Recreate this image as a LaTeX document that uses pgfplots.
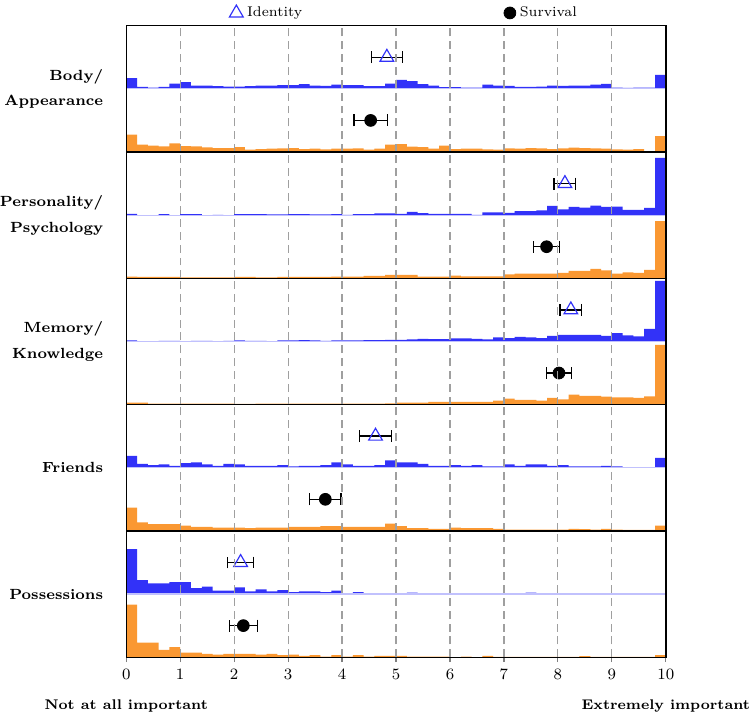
\documentclass[border=0pt]{standalone}
\usepackage{pgfplots}
\pgfplotsset{compat=1.18}
\usepackage{pgfplotstable}
\usepgfplotslibrary{groupplots,fillbetween}
\definecolor{idblue}{RGB}{50,50,248}
\definecolor{svorange}{RGB}{250,152,50}

\pgfplotsset{
  legtri/.style={only marks, idblue, mark=triangle, mark size=4pt, mark options={fill=white, line width=0.6pt},
    legend image code/.code={\draw[mark repeat=2,mark phase=2,only marks,##1] plot coordinates {(0cm,0cm) (0.1cm,0cm) (0.2cm,0cm)};}},
  legcirc/.style={only marks, black, mark=*, mark size=3pt,
    legend image code/.code={\draw[mark repeat=2,mark phase=2,only marks,##1] plot coordinates {(0cm,0cm) (0.1cm,0cm) (0.2cm,0cm)};}},
}
\newcommand{\lblfont}{\fontsize{7.45}{9}\selectfont\bfseries}
\newcommand{\extfont}{\fontsize{7.1}{8.5}\selectfont\bfseries}

% Panel 1: Body/Appearance
\pgfplotstableread{
x b o
0.0 32 52
0.2 6 22
0.4 4 19
0.6 6 17
0.8 16 26
1.0 20 18
1.2 10 17
1.4 10 14
1.6 8 12
1.8 7 12
2.0 7 15
2.2 8 7
2.4 10 9
2.6 10 10
2.8 11 11
3.0 11 12
3.2 14 9
3.4 10 10
3.6 9 8
3.8 13 10
4.0 11 10
4.2 11 11
4.4 8 7
4.6 8 10
4.8 16 22
5.0 27 24
5.2 23 16
5.4 14 15
5.6 10 10
5.8 5 19
6.0 5 9
6.2 4 10
6.4 4 10
6.6 13 8
6.8 10 7
7.0 9 11
7.2 6 10
7.4 6 12
7.6 7 11
7.8 10 9
8.0 9 11
8.2 10 13
8.4 10 12
8.6 13 11
8.8 15 10
9.0 4 8
9.2 3 7
9.4 4 9
9.6 4 3
9.8 42 48
10.0 42 48
}\tabA

% Panel 2: Personality/Psychology
\pgfplotstableread{
x b o
0.0 4 5
0.2 0 4
0.4 0 4
0.6 3 4
0.8 0 4
1.0 3 3
1.2 3 3
1.4 0 3
1.6 1 3
1.8 0 3
2.0 3 4
2.2 3 4
2.4 3 3
2.6 2 3
2.8 2 4
3.0 3 4
3.2 3 4
3.4 2 4
3.6 2 4
3.8 3 5
4.0 1 5
4.2 3 5
4.4 3 7
4.6 5 7
4.8 5 10
5.0 4 10
5.2 10 10
5.4 6 5
5.6 4 5
5.8 4 5
6.0 4 8
6.2 4 6
6.4 1 6
6.6 8 6
6.8 8 6
7.0 7 12
7.2 12 14
7.4 12 14
7.6 14 14
7.8 28 14
8.0 17 16
8.2 25 22
8.4 23 22
8.6 29 28
8.8 25 24
9.0 26 14
9.2 16 18
9.4 16 16
9.6 22 25
9.8 172 172
10.0 172 172
}\tabB

% Panel 3: Memory/Knowledge
\pgfplotstableread{
x b o
0.0 3 6
0.2 0 6
0.4 0 3
0.6 2 3
0.8 2 3
1.0 0 3
1.2 2 3
1.4 2 3
1.6 0 3
1.8 2 3
2.0 3 2
2.2 2 2
2.4 2 3
2.6 0 3
2.8 3 3
3.0 3 3
3.2 4 3
3.4 3 3
3.6 2 3
3.8 3 3
4.0 3 3
4.2 3 3
4.4 4 3
4.6 4 3
4.8 5 4
5.0 5 6
5.2 6 6
5.4 8 6
5.6 7 8
5.8 7 8
6.0 9 8
6.2 9 8
6.4 8 8
6.6 6 8
6.8 12 12
7.0 10 18
7.2 14 14
7.4 12 14
7.6 10 12
7.8 17 20
8.0 20 16
8.2 20 30
8.4 20 26
8.6 20 26
8.8 17 24
9.0 25 22
9.2 18 22
9.4 15 20
9.6 38 25
9.8 182 180
10.0 182 180
}\tabC

% Panel 4: Friends
\pgfplotstableread{
x b o
0.0 36 70
0.2 12 26
0.4 8 20
0.6 10 20
0.8 6 20
1.0 14 16
1.2 16 12
1.4 10 12
1.6 6 10
1.8 12 10
2.0 10 10
2.2 6 8
2.4 6 10
2.6 6 10
2.8 8 10
3.0 4 12
3.2 6 12
3.4 6 12
3.6 8 14
3.8 16 14
4.0 10 12
4.2 6 12
4.4 6 12
4.6 8 12
4.8 22 22
5.0 16 14
5.2 16 8
5.4 12 8
5.6 6 6
5.8 6 6
6.0 8 10
6.2 6 8
6.4 8 8
6.6 4 8
6.8 4 6
7.0 10 4
7.2 6 4
7.4 10 4
7.6 10 4
7.8 6 4
8.0 8 4
8.2 4 6
8.4 4 5
8.6 4 4
8.8 6 6
9.0 4 4
9.2 2 3
9.4 2 3
9.6 2 3
9.8 30 16
10.0 30 16
}\tabD

% Panel 5: Possessions
\pgfplotstableread{
x b o
0.0 135 158
0.2 42 44
0.4 32 44
0.6 32 22
0.8 36 30
1.0 36 14
1.2 18 14
1.4 22 10
1.6 10 8
1.8 10 10
2.0 20 10
2.2 8 10
2.4 14 8
2.6 8 10
2.8 12 6
3.0 6 8
3.2 8 4
3.4 8 6
3.6 6 2
3.8 10 6
4.0 2 2
4.2 6 6
4.4 3 2
4.6 3 4
4.8 3 4
5.0 3 4
5.2 4 2
5.4 2 2
5.6 2 2
5.8 3 2
6.0 1 0
6.2 2 2
6.4 2 0
6.6 1 4
6.8 0 1
7.0 1 1
7.2 0 1
7.4 4 1
7.6 1 1
7.8 1 1
8.0 1 1
8.2 1 1
8.4 1 3
8.6 0 1
8.8 1 1
9.0 1 1
9.2 0 1
9.4 1 1
9.6 1 1
9.8 0 6
10.0 0 6
}\tabE

\newcommand{\panelplots}[6]{%
  \addplot[draw=idblue!30, line width=0.6pt, forget plot] coordinates {(0,190) (10,190)};
  \addplot[name path=bh#2, draw=none, const plot, forget plot] table[x=x, y expr=\thisrow{b}+190] {#1};
  \addplot[name path=bb#2, draw=none, forget plot] coordinates {(0,190) (10,190)};
  \addplot[fill=idblue, draw=none, forget plot] fill between[of=bh#2 and bb#2];
  \addplot[fill=svorange, draw=none, const plot, forget plot] table[x=x, y=o] {#1} \closedcycle;
  \addplot[only marks, idblue, mark=triangle, mark size=4pt, mark options={fill=white, line width=0.6pt}, forget plot,
    error bars/.cd, x dir=both, x explicit,
    error bar style={black, line width=0.7pt},
    error mark options={rotate=90, black, mark size=3pt, line width=0.7pt}]
    coordinates {(#3,285) +- (#4,0)};
  \addplot[only marks, black, mark=*, mark size=3pt, forget plot,
    error bars/.cd, x dir=both, x explicit,
    error bar style={black, line width=0.7pt},
    error mark options={rotate=90, black, mark size=3pt, line width=0.7pt}]
    coordinates {(#5,95) +- (#6,0)};
}

\begin{document}
\begin{tikzpicture}
\begin{groupplot}[
  group style={group name=G, group size=1 by 5, vertical sep=0pt, xticklabels at=edge bottom},
  scale only axis, width=273pt, height=63.9pt,
  xmin=0, xmax=10, ymin=0, ymax=380, enlargelimits=false,
  xtick={0,1,...,10}, ytick=\empty,
  xmajorgrids,
  major grid style={gray!75, dash pattern=on 4pt off 2.5pt, line width=0.6pt},
  axis on top,
  axis line style={black, line width=0.7pt},
  major tick length=0pt,
  clip mode=individual,
  tick label style={font=\footnotesize},
]
\nextgroupplot[
  legend style={draw=none, fill=none, at={(0.187,1.0)}, anchor=south west, legend columns=2,
    font=\fontsize{7.1}{8.5}\selectfont, inner sep=1pt,
    /tikz/every even column/.append style={column sep=100pt}},
]
\addlegendimage{legtri}
\addlegendentry{Identity}
\addlegendimage{legcirc}
\addlegendentry{Survival}
\panelplots{\tabA}{a}{4.83}{0.29}{4.53}{0.31}
\node[anchor=east, align=right, font=\lblfont, inner sep=0pt, xshift=-11.5pt] at (rel axis cs:0,0.5) {Body/\\[4pt]Appearance};

\nextgroupplot
\panelplots{\tabB}{b}{8.13}{0.20}{7.79}{0.24}
\node[anchor=east, align=right, font=\lblfont, inner sep=0pt, xshift=-11.5pt] at (rel axis cs:0,0.5) {Personality/\\[4pt]Psychology};

\nextgroupplot
\panelplots{\tabC}{c}{8.24}{0.20}{8.02}{0.23}
\node[anchor=east, align=right, font=\lblfont, inner sep=0pt, xshift=-11.5pt] at (rel axis cs:0,0.5) {Memory/\\[4pt]Knowledge};

\nextgroupplot
\panelplots{\tabD}{d}{4.62}{0.30}{3.69}{0.29}
\node[anchor=east, align=right, font=\lblfont, inner sep=0pt, xshift=-11.5pt] at (rel axis cs:0,0.5) {Friends};

\nextgroupplot[major tick length=2.5pt, tick align=outside, xtick pos=bottom, tick style={gray, line width=0.6pt}]
\panelplots{\tabE}{e}{2.12}{0.24}{2.17}{0.26}
\node[anchor=east, align=right, font=\lblfont, inner sep=0pt, xshift=-11.5pt] at (rel axis cs:0,0.5) {Possessions};
\node[font=\extfont, inner sep=0pt, yshift=-24.5pt] at (rel axis cs:0,0) {Not at all important};
\node[font=\extfont, inner sep=0pt, yshift=-24.5pt] at (rel axis cs:1,0) {Extremely important};
\end{groupplot}
\path ([xshift=-61.5pt,yshift=13pt]G c1r1.north west) rectangle ([xshift=40.5pt,yshift=-29.5pt]G c1r5.south east);
\end{tikzpicture}
\end{document}
